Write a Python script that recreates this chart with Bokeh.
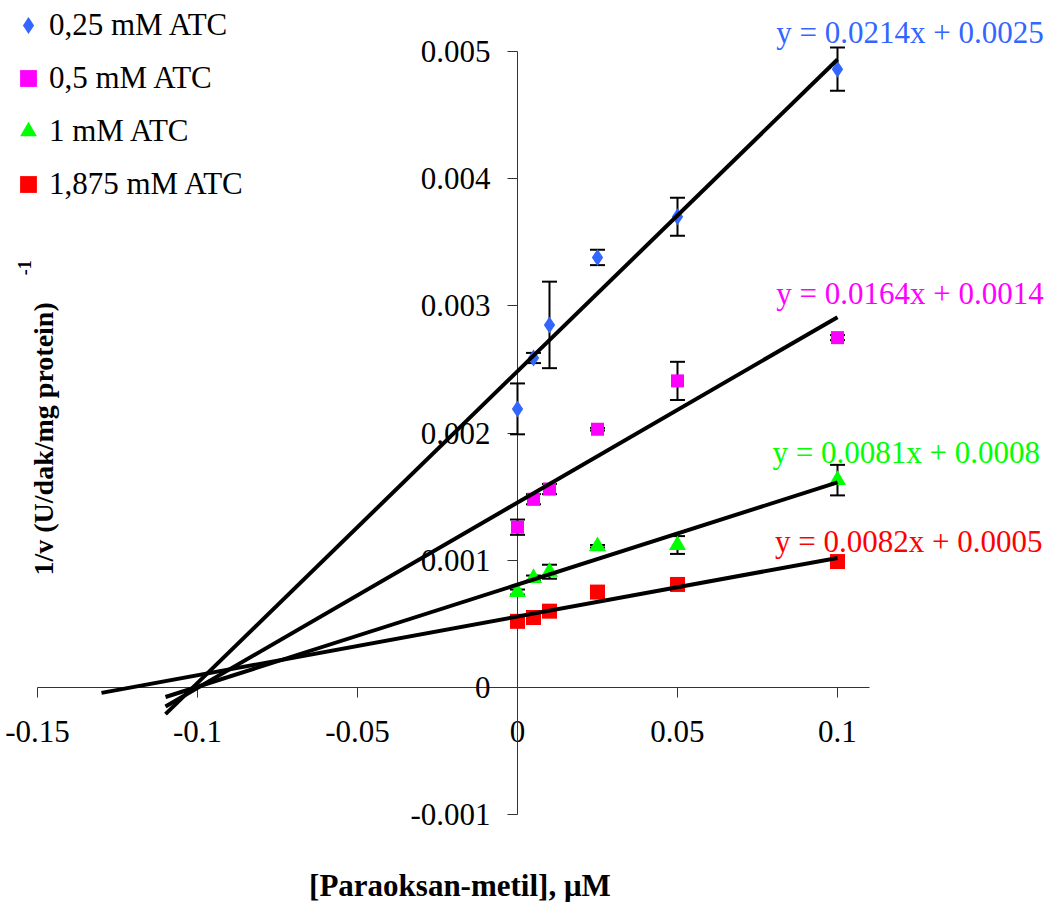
import numpy as np
from bokeh.plotting import figure
from bokeh.models import (Range1d, FixedTicker, CustomJSTickFormatter, ColumnDataSource,
                          Whisker, TeeHead, Legend, LegendItem, Label)
from bokeh.embed import file_html
from bokeh.resources import INLINE

# ---------------- data ----------------
conc = [0.0, 0.005, 0.01, 0.025, 0.05, 0.1]          # [Paraoksan-metil], uM

series_names = ["0,25 mM ATC", "0,5 mM ATC", "1 mM ATC", "1,875 mM ATC"]

y_025 = [0.00219, 0.00259, 0.00285, 0.00338, 0.00370, 0.00486]
err_025 = [0.00020, 0.00004, 0.00034, 0.00006, 0.00015, 0.00017]

y_05 = [0.00126, 0.00148, 0.00156, 0.00203, 0.00241, 0.00275]
err_05 = [0.00006, 0.00004, 0.00004, 0.00001, 0.00015, 0.00002]

y_1 = [0.00075, 0.00086, 0.00091, 0.00111, 0.00112, 0.00163]
err_1 = [0.00002, 0.00002, 0.000055, 0.00001, 0.00007, 0.00012]

y_1875 = [0.00052, 0.00055, 0.00060, 0.00075, 0.00081, 0.00099]
err_1875 = [0.00001, 0.00001, 0.00001, 0.00001, 0.00001, 0.00001]

equations = ["y = 0.0214x + 0.0025", "y = 0.0164x + 0.0014",
             "y = 0.0081x + 0.0008", "y = 0.0082x + 0.0005"]

backcast_start = [-0.11, -0.11, -0.11, -0.13]   # trendline backward forecast limits

x_axis_bounds = (-0.15, 0.11)
y_axis_bounds = (-0.001, 0.005)
x_ticks = [-0.15, -0.1, -0.05, 0, 0.05, 0.1]
y_ticks = [-0.001, 0, 0.001, 0.002, 0.003, 0.004, 0.005]

x_title = "[Paraoksan-metil], \u03bcM"
y_title = "1/v (U/dak/mg protein)"
y_title_sup = "-1"

# ---------------- style ----------------
colors = ["#3366FF", "#FF00FF", "#00FF00", "#FF0000"]
markers = ["diamond", "square", "triangle", "square"]
sizes = [17, 13, 17, 15]
eq_pos = [(0.0809, 0.005145), (0.0809, 0.003097), (0.0797, 0.00185), (0.0805, 0.001148)]
FONT = "Liberation Serif"

p = figure(width=1056, height=902, output_backend="svg", toolbar_location=None,
           x_range=Range1d(-0.16156, 0.16844), y_range=Range1d(-0.00169, 0.0054),
           min_border=0, title=None)
p.outline_line_color = None
p.background_fill_color = "white"
p.border_fill_color = "white"
p.xgrid.visible = False
p.ygrid.visible = False

fmt = CustomJSTickFormatter(code="return tick.toString();")
for ax, ticks, bounds in ((p.xaxis[0], x_ticks, x_axis_bounds),
                          (p.yaxis[0], y_ticks, y_axis_bounds)):
    ax.fixed_location = 0
    ax.bounds = bounds
    ax.ticker = FixedTicker(ticks=ticks)
    ax.formatter = fmt
    ax.minor_tick_line_color = None
    ax.major_tick_in = 0
    ax.major_tick_out = 10
    ax.axis_line_color = "#333333"
    ax.major_tick_line_color = "#333333"
    ax.major_label_text_font = FONT
    ax.major_label_text_font_size = "31px"
    ax.major_label_text_color = "black"
    ax.level = "underlay"
p.xaxis[0].major_label_standoff = 24
p.yaxis[0].major_label_standoff = 17

all_y = [y_025, y_05, y_1, y_1875]
all_err = [err_025, err_05, err_1, err_1875]

scatter_renderers = []
for i in range(4):
    y = np.array(all_y[i])
    e = np.array(all_err[i])
    src = ColumnDataSource(dict(x=conc, y=y, upper=y + e, lower=y - e))
    w = Whisker(source=src, base="x", upper="upper", lower="lower",
                line_color="black", line_width=2,
                upper_head=TeeHead(size=15, line_width=2, line_color="black"),
                lower_head=TeeHead(size=15, line_width=2, line_color="black"),
                level="underlay")
    p.add_layout(w)
    r = p.scatter("x", "y", source=src, marker=markers[i], size=sizes[i],
                  fill_color=colors[i], line_color=colors[i], line_width=0)
    scatter_renderers.append(r)

for i in range(4):
    slope, icpt = np.polyfit(conc, all_y[i], 1)
    xl = np.array([backcast_start[i], max(conc)])
    p.line(xl, slope * xl + icpt, line_color="black", line_width=4)

for i in range(4):
    p.add_layout(Label(x=eq_pos[i][0], y=eq_pos[i][1], text=equations[i],
                       text_font=FONT, text_font_size="31px", text_color=colors[i],
                       text_align="left", text_baseline="middle"))

# axis titles
p.add_layout(Label(x=-0.018, y=-0.00156, text=x_title, text_font=FONT,
                   text_font_size="31px", text_font_style="bold", text_color="black",
                   text_align="center", text_baseline="middle"))
p.add_layout(Label(x=-0.148, y=0.001954, text=y_title, text_font=FONT,
                   text_font_size="28px", text_font_style="bold", angle=np.pi / 2,
                   text_color="black", text_align="center", text_baseline="middle"))
p.add_layout(Label(x=-0.154, y=0.0033, text=y_title_sup, text_font=FONT,
                   text_font_size="18px", text_font_style="bold", angle=np.pi / 2,
                   text_color="black", text_align="center", text_baseline="middle"))

legend = Legend(items=[LegendItem(label=series_names[i], renderers=[scatter_renderers[i]])
                       for i in range(4)],
                location=(7, 697), padding=0, margin=0, spacing=11,
                glyph_width=42, glyph_height=42, label_height=30, label_standoff=0,
                label_text_font=FONT, label_text_font_size="31px", label_text_color="black",
                border_line_color=None, background_fill_alpha=0)
p.add_layout(legend)

open("out.html", "w").write(file_html(p, INLINE))
